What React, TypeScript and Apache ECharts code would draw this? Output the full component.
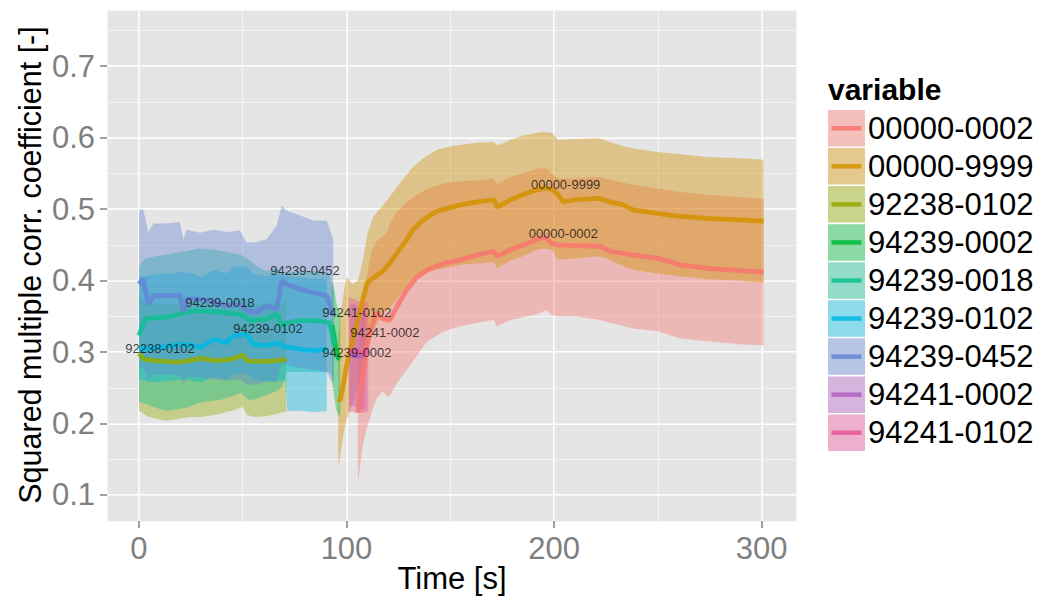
import React, { useEffect, useRef } from "react";
import * as echarts from "echarts";

const FONT = "'Liberation Sans', Arial, Helvetica, sans-serif";

const seriesNames = [
  "00000-0002", "00000-9999", "92238-0102", "94239-0002", "94239-0018",
  "94239-0102", "94239-0452", "94241-0002", "94241-0102",
];
const seriesColors = [
  "#F8766D", "#D39200", "#93AA00", "#00BA38", "#10BF92",
  "#00B9E3", "#6585D5", "#B060C0", "#E8589A",
];

const xTicks = [0, 100, 200, 300];
const yTicks = [0.1, 0.2, 0.3, 0.4, 0.5, 0.6, 0.7];

// 00000-0002
const t_r = [105.5, 106.5, 108, 110, 112, 114.5, 117.5, 119.5, 121, 124, 129, 134, 139, 147, 155, 163, 171, 172.5, 179, 187, 193, 196, 199, 202, 210, 222, 227, 238, 250, 261, 274, 290, 301];
const mid_r = [0.215, 0.24, 0.27, 0.31, 0.335, 0.355, 0.347, 0.345, 0.345, 0.362, 0.387, 0.405, 0.415, 0.424, 0.429, 0.436, 0.441, 0.434, 0.443, 0.452, 0.459, 0.46, 0.452, 0.45, 0.449, 0.448, 0.441, 0.436, 0.431, 0.422, 0.417, 0.414, 0.412];
const lo_r = [0.117, 0.14, 0.172, 0.195, 0.215, 0.235, 0.245, 0.238, 0.24, 0.255, 0.275, 0.295, 0.315, 0.329, 0.336, 0.341, 0.345, 0.336, 0.345, 0.35, 0.354, 0.359, 0.352, 0.35, 0.35, 0.345, 0.341, 0.333, 0.329, 0.319, 0.315, 0.311, 0.309];
const hi_r = [0.29, 0.33, 0.37, 0.41, 0.44, 0.455, 0.462, 0.468, 0.48, 0.495, 0.51, 0.52, 0.529, 0.536, 0.539, 0.54, 0.543, 0.535, 0.545, 0.552, 0.557, 0.557, 0.55, 0.543, 0.543, 0.545, 0.541, 0.534, 0.529, 0.524, 0.52, 0.517, 0.514];

// 00000-9999
const t_o = [96, 97, 98.5, 100, 103, 105.5, 108, 110, 113, 117.5, 121, 125.5, 129, 132, 137, 143.5, 148.5, 155, 163, 171, 172.5, 174, 179, 185, 191.5, 195, 199, 202, 204.5, 209.5, 222, 227, 233.5, 238, 249.5, 260.5, 273.5, 289.5, 301];
const mid_o = [0.235, 0.232, 0.255, 0.28, 0.317, 0.345, 0.375, 0.397, 0.404, 0.413, 0.425, 0.443, 0.457, 0.471, 0.485, 0.497, 0.501, 0.506, 0.51, 0.513, 0.503, 0.505, 0.513, 0.52, 0.527, 0.529, 0.528, 0.52, 0.51, 0.513, 0.515, 0.51, 0.506, 0.499, 0.494, 0.49, 0.487, 0.485, 0.483];
const lo_o = [0.14, 0.155, 0.185, 0.205, 0.228, 0.25, 0.28, 0.305, 0.33, 0.355, 0.362, 0.378, 0.392, 0.402, 0.41, 0.415, 0.418, 0.422, 0.424, 0.426, 0.417, 0.42, 0.428, 0.434, 0.443, 0.445, 0.443, 0.429, 0.43, 0.431, 0.434, 0.429, 0.42, 0.415, 0.41, 0.406, 0.402, 0.4, 0.397];
const hi_o = [0.32, 0.35, 0.38, 0.405, 0.395, 0.40, 0.43, 0.465, 0.49, 0.505, 0.518, 0.535, 0.548, 0.559, 0.571, 0.583, 0.587, 0.59, 0.593, 0.594, 0.59, 0.59, 0.597, 0.603, 0.607, 0.608, 0.607, 0.597, 0.597, 0.598, 0.599, 0.594, 0.588, 0.585, 0.58, 0.577, 0.573, 0.571, 0.569];

// 92238-0102
const t_ol = [0, 2, 4, 8, 13, 18, 22, 26, 30, 34, 38, 42, 46, 50, 52, 56, 61, 66, 69.5, 71];
const mid_ol = [0.298, 0.291, 0.289, 0.288, 0.287, 0.286, 0.287, 0.289, 0.291, 0.289, 0.288, 0.289, 0.291, 0.296, 0.288, 0.287, 0.287, 0.288, 0.289, 0.29];
const lo_ol = [0.218, 0.214, 0.21, 0.207, 0.204, 0.206, 0.208, 0.209, 0.209, 0.211, 0.213, 0.216, 0.219, 0.223, 0.212, 0.209, 0.21, 0.213, 0.216, 0.216];
const hi_ol = [0.378, 0.371, 0.369, 0.368, 0.367, 0.366, 0.367, 0.369, 0.371, 0.369, 0.368, 0.369, 0.371, 0.376, 0.368, 0.367, 0.367, 0.368, 0.369, 0.37];

// 94239-0002
const t_g = [93, 94, 95, 96, 97];
const mid_g = [0.338, 0.322, 0.302, 0.292, 0.29];
const lo_g = [0.26, 0.24, 0.22, 0.212, 0.21];
const hi_g = [0.40, 0.39, 0.37, 0.36, 0.36];

// 94239-0018
const t_te = [0, 3, 8, 13, 18, 23, 29, 34, 39, 44, 49, 53.5, 57, 61.5, 66.4, 68.8, 71.2, 77.6, 85.6, 92, 94];
const mid_te = [0.323, 0.346, 0.348, 0.349, 0.352, 0.356, 0.358, 0.357, 0.356, 0.354, 0.353, 0.344, 0.345, 0.346, 0.353, 0.337, 0.341, 0.344, 0.344, 0.341, 0.31];
const lo_te = [0.23, 0.228, 0.222, 0.218, 0.22, 0.222, 0.229, 0.231, 0.233, 0.237, 0.243, 0.232, 0.235, 0.24, 0.246, 0.25, 0.272, 0.272, 0.272, 0.272, 0.26];
const hi_te = [0.42, 0.431, 0.434, 0.436, 0.439, 0.441, 0.445, 0.444, 0.442, 0.439, 0.436, 0.428, 0.42, 0.413, 0.418, 0.41, 0.412, 0.413, 0.413, 0.41, 0.38];

// 94239-0102
const t_c = [0, 5, 10, 16, 21, 26, 30, 36, 42, 45.5, 52, 55, 61.5, 66.4, 70.5, 71.5, 77.6, 84, 90.5];
const mid_c = [0.304, 0.305, 0.307, 0.309, 0.311, 0.309, 0.307, 0.318, 0.313, 0.323, 0.325, 0.311, 0.309, 0.313, 0.307, 0.307, 0.304, 0.302, 0.304];
const lo_c = [0.262, 0.258, 0.258, 0.26, 0.262, 0.26, 0.258, 0.265, 0.262, 0.268, 0.27, 0.262, 0.258, 0.26, 0.26, 0.217, 0.218, 0.216, 0.217];
const hi_c = [0.405, 0.407, 0.41, 0.41, 0.412, 0.41, 0.405, 0.415, 0.41, 0.42, 0.42, 0.41, 0.406, 0.41, 0.406, 0.406, 0.404, 0.403, 0.403];

// 94239-0452
const t_b = [0, 2, 4.5, 7, 13, 19.7, 21.4, 23, 29.4, 35.8, 42.3, 48.7, 51.9, 56.7, 61.5, 66.4, 68.8, 71.2, 77.6, 84, 90.5, 93.6];
const mid_b = [0.395, 0.402, 0.367, 0.379, 0.379, 0.379, 0.356, 0.374, 0.374, 0.37, 0.365, 0.367, 0.358, 0.356, 0.365, 0.36, 0.40, 0.395, 0.388, 0.383, 0.379, 0.351];
const lo_b = [0.275, 0.28, 0.262, 0.268, 0.268, 0.268, 0.255, 0.265, 0.265, 0.262, 0.26, 0.262, 0.255, 0.254, 0.26, 0.258, 0.285, 0.282, 0.278, 0.275, 0.272, 0.255];
const hi_b = [0.498, 0.50, 0.468, 0.48, 0.48, 0.482, 0.458, 0.471, 0.467, 0.471, 0.468, 0.47, 0.453, 0.454, 0.458, 0.477, 0.505, 0.498, 0.491, 0.484, 0.484, 0.458];

// 94241-0002
const t_p = [101.5, 103, 105, 107, 109];
const mid_p = [0.295, 0.296, 0.294, 0.295, 0.296];
const lo_p = [0.225, 0.225, 0.222, 0.22, 0.22];
const hi_p = [0.365, 0.368, 0.365, 0.36, 0.358];

// 94241-0102
const t_pk = [101, 103, 105, 107, 109, 110.5];
const mid_pk = [0.30, 0.302, 0.30, 0.298, 0.30, 0.302];
const lo_pk = [0.216, 0.216, 0.215, 0.215, 0.216, 0.217];
const hi_pk = [0.377, 0.375, 0.372, 0.37, 0.37, 0.368];

// direct labels
const labelNames = ["92238-0102", "94239-0018", "94239-0102", "94239-0452", "94241-0102", "94241-0002", "94239-0002", "00000-9999", "00000-0002"];
const labelT = [10.1, 39, 62.2, 80, 105, 118.5, 105, 205.6, 204.5];
const labelV = [0.305, 0.37, 0.333, 0.414, 0.355, 0.327, 0.300, 0.534, 0.466];

const groupT = [t_r, t_o, t_ol, t_g, t_te, t_c, t_b, t_p, t_pk];
const groupMid = [mid_r, mid_o, mid_ol, mid_g, mid_te, mid_c, mid_b, mid_p, mid_pk];
const groupLo = [lo_r, lo_o, lo_ol, lo_g, lo_te, lo_c, lo_b, lo_p, lo_pk];
const groupHi = [hi_r, hi_o, hi_ol, hi_g, hi_te, hi_c, hi_b, hi_p, hi_pk];

const X_MIN = -15.4;
const X_MAX = 316.6;
const Y_MIN = 0.0636;
const Y_MAX = 0.7786;

export default function App() {
  const ref = useRef<HTMLDivElement>(null);

  useEffect(() => {
    document.body.style.margin = "0";
    if (!ref.current) return;
    const chart = echarts.init(ref.current, undefined, { renderer: "svg" });

    const bandSeries: any[] = [];
    const lineSeries: any[] = [];
    seriesNames.forEach((name, i) => {
      const t = groupT[i];
      const lo = groupLo[i];
      const hi = groupHi[i];
      bandSeries.push({
        type: "custom",
        name: name + " band",
        data: t.map((x, k) => [x, lo[k], hi[k]]),
        encode: { x: 0, y: [1, 2] },
        silent: true,
        z: 1,
        renderItem: (params: any, api: any) => {
          if (params.dataIndex !== 0) return null;
          const upper = t.map((x, k) => api.coord([x, hi[k]]));
          const lower = t.map((x, k) => api.coord([x, lo[k]])).reverse();
          return {
            type: "polygon",
            shape: { points: upper.concat(lower) },
            style: { fill: seriesColors[i], opacity: 0.4 },
          };
        },
      });
      lineSeries.push({
        type: "line",
        name,
        data: t.map((x, k) => [x, groupMid[i][k]]),
        symbol: "none",
        lineStyle: { color: seriesColors[i], width: 4.8, opacity: 0.85 },
        silent: true,
        z: 3,
      });
    });

    const labelSeries = {
      type: "scatter",
      data: labelNames.map((n, i) => ({ name: n, value: [labelT[i], labelV[i]] })),
      symbolSize: 0,
      silent: true,
      z: 6,
      label: {
        show: true,
        position: "inside",
        formatter: "{b}",
        color: "#111111",
        fontSize: 13,
        fontFamily: FONT,
      },
    };

    const legendTop = 110;
    const legendStep = 38.06;
    const keyX = 828;
    const keyW = 37;
    const keyH = 36.5;
    const legendGraphics: any[] = [
      {
        type: "text",
        x: 828,
        y: 89,
        style: { text: "variable", font: `bold 30px ${FONT}`, fill: "#000", verticalAlign: "middle", align: "left" },
      },
    ];
    seriesNames.forEach((name, i) => {
      const top = legendTop + legendStep * i;
      const cy = top + keyH / 2;
      legendGraphics.push({
        type: "rect",
        shape: { x: keyX, y: top, width: keyW, height: keyH },
        style: { fill: "#F2F2F2" },
      });
      legendGraphics.push({
        type: "rect",
        shape: { x: keyX, y: top, width: keyW, height: keyH },
        style: { fill: seriesColors[i], opacity: 0.42 },
      });
      legendGraphics.push({
        type: "line",
        shape: { x1: keyX + 3.5, y1: cy, x2: keyX + keyW - 3.5, y2: cy },
        style: { stroke: seriesColors[i], lineWidth: 4.5, opacity: 0.85 },
      });
      legendGraphics.push({
        type: "text",
        x: 868,
        y: cy,
        style: { text: name, font: `31px ${FONT}`, fill: "#000", verticalAlign: "middle", align: "left" },
      });
    });

    const axisTitles = [
      {
        type: "text",
        x: 452,
        y: 578,
        style: { text: "Time [s]", font: `31px ${FONT}`, fill: "#000", align: "center", verticalAlign: "middle" },
      },
      {
        type: "text",
        x: 30,
        y: 265,
        rotation: Math.PI / 2,
        style: {
          text: "Squared multiple corr. coefficient [-]",
          font: `30.5px ${FONT}`,
          fill: "#000",
          align: "center",
          verticalAlign: "middle",
        },
      },
    ];

    const option: any = {
      animation: false,
      backgroundColor: "#FFFFFF",
      grid: {
        left: 107,
        right: 244,
        top: 10,
        bottom: 75,
        show: true,
        backgroundColor: "#E5E5E5",
        borderWidth: 0,
      },
      xAxis: [
        {
          type: "value",
          position: "bottom",
          min: X_MIN,
          max: X_MAX,
          minInterval: 100,
          maxInterval: 100,
          axisLine: { show: false, onZero: false },
          axisTick: { show: true, length: 7, lineStyle: { color: "#7F7F7F", width: 1.5 }, customValues: xTicks },
          axisLabel: { customValues: xTicks, color: "#7F7F7F", fontSize: 31, margin: 12, fontFamily: FONT },
          splitLine: { show: true, lineStyle: { color: "#FFFFFF", width: 2 } },
        },
        {
          type: "value",
          position: "top",
          min: X_MIN,
          max: X_MAX,
          minInterval: 50,
          maxInterval: 50,
          axisLine: { show: false, onZero: false },
          axisTick: { show: false },
          axisLabel: { show: false },
          splitLine: { show: true, lineStyle: { color: "#F4F4F4", width: 1 } },
        },
      ],
      yAxis: [
        {
          type: "value",
          position: "left",
          min: Y_MIN,
          max: Y_MAX,
          minInterval: 0.1,
          maxInterval: 0.1,
          axisLine: { show: false, onZero: false },
          axisTick: { show: true, length: 7, lineStyle: { color: "#7F7F7F", width: 1.5 }, customValues: yTicks },
          axisLabel: { customValues: yTicks, color: "#7F7F7F", fontSize: 31, margin: 12, fontFamily: FONT },
          splitLine: { show: true, lineStyle: { color: "#FFFFFF", width: 2 } },
        },
        {
          type: "value",
          position: "right",
          min: Y_MIN,
          max: Y_MAX,
          minInterval: 0.05,
          maxInterval: 0.05,
          axisLine: { show: false, onZero: false },
          axisTick: { show: false },
          axisLabel: { show: false },
          splitLine: { show: true, lineStyle: { color: "#F4F4F4", width: 1 } },
        },
      ],
      graphic: [...legendGraphics, ...axisTitles],
      series: [...bandSeries, ...lineSeries, labelSeries],
    };

    chart.setOption(option);
    return () => {
      chart.dispose();
    };
  }, []);

  return <div ref={ref} style={{ width: 1040, height: 596 }} />;
}
